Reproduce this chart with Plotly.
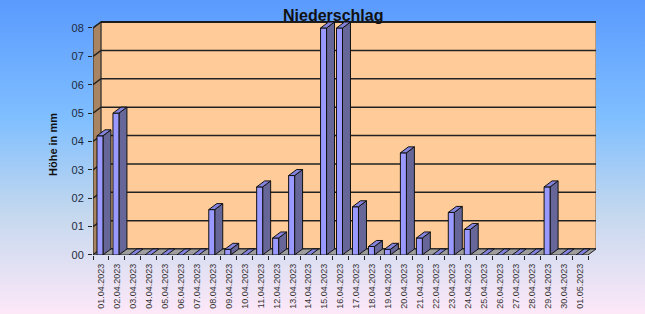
import base64
import plotly.graph_objects as go

# ---------------- data ----------------
dates = ["01.04.2023", "02.04.2023", "03.04.2023", "04.04.2023", "05.04.2023",
         "06.04.2023", "07.04.2023", "08.04.2023", "09.04.2023", "10.04.2023",
         "11.04.2023", "12.04.2023", "13.04.2023", "14.04.2023", "15.04.2023",
         "16.04.2023", "17.04.2023", "18.04.2023", "19.04.2023", "20.04.2023",
         "21.04.2023", "22.04.2023", "23.04.2023", "24.04.2023", "25.04.2023",
         "26.04.2023", "27.04.2023", "28.04.2023", "29.04.2023", "30.04.2023",
         "01.05.2023"]
values = [4.2, 5.0, 0, 0, 0, 0, 0, 1.6, 0.2, 0, 2.4, 0.6, 2.8, 0, 8.0, 8.0,
          1.7, 0.3, 0.2, 3.6, 0.6, 0, 1.5, 0.9, 0, 0, 0, 0, 2.4, 0, 0]
ytick_vals = [0, 1, 2, 3, 4, 5, 6, 7, 8]
ytick_text = ["00", "01", "02", "03", "04", "05", "06", "07", "08"]

# ---------------- geometry / style ----------------
W, H = 645, 314
n = len(dates)
idx = list(range(n))
DX = 0.5          # depth in category units
PXU = 28.375      # px per y unit
DY = 6 / PXU      # depth in y units
X0, X1 = -0.25, 0.125   # front face relative to category
YMAX = 8.25
xr = [-0.5, n - 0.5 + DX]
yr = [0, YMAX]
left_px, right_px = 93, 596
top_px = 255 - YMAX * PXU
bot_px = 255

FRONT = "#9999FF"
SIDE = "#666699"
TOP = "#8383DD"
WALL = "#FFCC99"
LWALL = "#A98462"
FLOOR = "#9E9E9E"
FONT = "Arial, Liberation Sans, sans-serif"

fig = go.Figure()

ymax_tick = ytick_vals[-1]
# back wall
fig.add_trace(go.Scatter(x=[0, n - 0.5 + DX, n - 0.5 + DX, 0, 0],
                         y=[DY, DY, ymax_tick + DY, ymax_tick + DY, DY],
                         fill="toself", fillcolor=WALL, mode="lines",
                         line=dict(color="#7a6a5a", width=1), hoverinfo="skip"))
# left wall
fig.add_trace(go.Scatter(x=[-0.5, 0, 0, -0.5, -0.5],
                         y=[0, DY, ymax_tick + DY, ymax_tick, 0],
                         fill="toself", fillcolor=LWALL, mode="lines",
                         line=dict(color="#222", width=1), hoverinfo="skip"))
# grid lines
gx, gy = [], []
for k in ytick_vals:
    gx += [-0.5, 0, n - 0.5 + DX, None]
    gy += [k, k + DY, k + DY, None]
fig.add_trace(go.Scatter(x=gx, y=gy, mode="lines",
                         line=dict(color="#222", width=1.5), hoverinfo="skip"))
# top edge of back wall darker
fig.add_trace(go.Scatter(x=[0, n - 0.5 + DX], y=[ymax_tick + DY] * 2, mode="lines",
                         line=dict(color="#111", width=1.5), hoverinfo="skip"))
# floor
fig.add_trace(go.Scatter(x=[-0.5, n - 0.5, n - 0.5 + DX, 0, -0.5],
                         y=[0, 0, DY, DY, 0],
                         fill="toself", fillcolor=FLOOR, mode="lines",
                         line=dict(color="#222", width=1), hoverinfo="skip"))

# bar faces
sx, sy = [], []
fx, fy = [], []
tx, ty = [], []
for i, v in zip(idx, values):
    a, b = i + X0, i + X1
    if v > 0:
        sx += [b, b, b + DX, b + DX, b, None]
        sy += [0, v, v + DY, DY, 0, None]
        fx += [a, b, b, a, a, None]
        fy += [0, 0, v, v, 0, None]
    tx += [a, b, b + DX, a + DX, a, None]
    ty += [v, v, v + DY, v + DY, v, None]
for xs, ys, col in ((sx, sy, SIDE), (fx, fy, FRONT), (tx, ty, TOP)):
    fig.add_trace(go.Scatter(x=xs, y=ys, fill="toself", fillcolor=col,
                             mode="lines", line=dict(color="#111", width=1),
                             hoverinfo="skip"))

# background gradient as svg image
svg = ('<svg xmlns="http://www.w3.org/2000/svg" width="645" height="314">'
       '<defs><linearGradient id="g" x1="0" y1="0" x2="0" y2="1">'
       '<stop offset="0" stop-color="#5A9AFE"/>'
       '<stop offset="0.38" stop-color="#80BFFF"/>'
       '<stop offset="0.68" stop-color="#C4D8EE"/>'
       '<stop offset="1" stop-color="#FDE8F8"/>'
       '</linearGradient></defs>'
       '<rect width="645" height="314" fill="url(#g)"/></svg>')
src = "data:image/svg+xml;base64," + base64.b64encode(svg.encode()).decode()

fig.update_layout(
    width=W, height=H,
    margin=dict(l=0, r=0, t=0, b=0, autoexpand=False),
    paper_bgcolor="rgba(0,0,0,0)", plot_bgcolor="rgba(0,0,0,0)",
    showlegend=False,
    images=[dict(source=src, xref="paper", yref="paper", x=0, y=1,
                 sizex=1, sizey=1, sizing="stretch", layer="below")],
    xaxis=dict(range=xr, domain=[left_px / W, right_px / W], automargin=False,
               tickmode="array", tickvals=idx, ticktext=dates,
               tickangle=-90, ticks="", showgrid=False, zeroline=False,
               showline=False, ticklabelstandoff=6,
               tickfont=dict(family=FONT, size=9, color="#333333"),
               minor=dict(tickmode="array",
                          tickvals=[i - 0.5 for i in idx] + [n - 0.5],
                          ticks="outside", ticklen=4, tickcolor="#222",
                          showgrid=False)),
    yaxis=dict(range=yr, domain=[(H - bot_px) / H, (H - top_px) / H],
               automargin=False,
               tickmode="array", tickvals=ytick_vals, ticktext=ytick_text,
               ticks="outside", ticklen=4, tickcolor="#222",
               showgrid=False, zeroline=False, showline=False,
               ticklabelstandoff=2,
               tickfont=dict(family=FONT, size=11, color="#1e2a40")),
    annotations=[
        dict(text="<b>Niederschlag</b>", x=333 / W, y=1 - 16 / H,
             xref="paper", yref="paper", showarrow=False,
             xanchor="center", yanchor="middle",
             font=dict(family=FONT, size=16, color="#111")),
        dict(text="<b>Höhe in mm</b>", x=53 / W, y=1 - 145 / H,
             xref="paper", yref="paper", showarrow=False, textangle=-90,
             xanchor="center", yanchor="middle",
             font=dict(family=FONT, size=11, color="#111")),
    ],
)

fig.write_html("out.html")
